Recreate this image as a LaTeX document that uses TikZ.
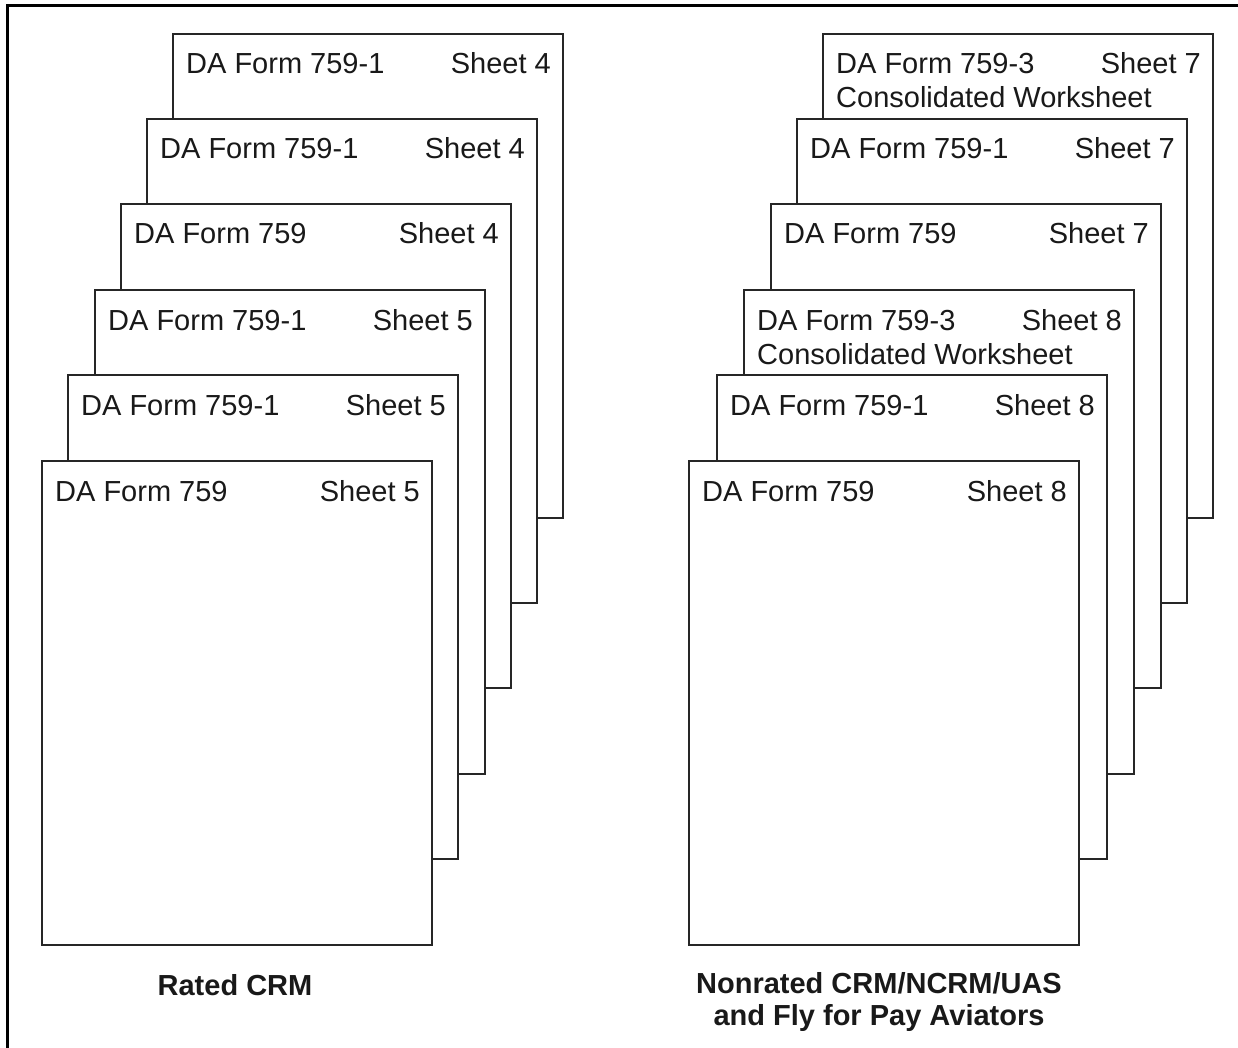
\documentclass[tikz,border=0pt]{standalone}
\usepackage{fontspec}
\setmainfont{Liberation Sans}
\usetikzlibrary{calc}
\tikzset{
  page/.style={draw=black!85, fill=white, line width=2pt, rectangle, anchor=north west,
    minimum width=390pt, minimum height=484pt, inner sep=0pt, outer sep=0pt},
  lbl/.style={inner sep=0pt, font=\fontsize{29}{34}\selectfont, text=black!90},
  captext/.style={inner sep=0pt, font=\fontsize{29}{33}\selectfont\bfseries, align=center, text=black!90},
}
\begin{document}
\begin{tikzpicture}[x=1pt,y=-1pt]
\useasboundingbox (0,0) rectangle (1238,1048);
\draw[line width=3pt] (7,1052) -- (7,6) -- (1240,6);
% left stack
\node[page] (L1) at (173,34) {};
\node[lbl,anchor=base west] (L1a) at ($(L1.north west)+(13,40)$) {DA Form 759-1};
\node[lbl,anchor=base east] (L1b) at ($(L1.north east)+(-12,40)$) {Sheet 4};
\node[page] (L2) at (147,119) {};
\node[lbl,anchor=base west] (L2a) at ($(L2.north west)+(13,40)$) {DA Form 759-1};
\node[lbl,anchor=base east] (L2b) at ($(L2.north east)+(-12,40)$) {Sheet 4};
\node[page] (L3) at (121,204) {};
\node[lbl,anchor=base west] (L3a) at ($(L3.north west)+(13,40)$) {DA Form 759};
\node[lbl,anchor=base east] (L3b) at ($(L3.north east)+(-12,40)$) {Sheet 4};
\node[page] (L4) at (95,290) {};
\node[lbl,anchor=base west] (L4a) at ($(L4.north west)+(13,40)$) {DA Form 759-1};
\node[lbl,anchor=base east] (L4b) at ($(L4.north east)+(-12,40)$) {Sheet 5};
\node[page] (L5) at (68,375) {};
\node[lbl,anchor=base west] (L5a) at ($(L5.north west)+(13,40)$) {DA Form 759-1};
\node[lbl,anchor=base east] (L5b) at ($(L5.north east)+(-12,40)$) {Sheet 5};
\node[page] (L6) at (42,461) {};
\node[lbl,anchor=base west] (L6a) at ($(L6.north west)+(13,40)$) {DA Form 759};
\node[lbl,anchor=base east] (L6b) at ($(L6.north east)+(-12,40)$) {Sheet 5};
% right stack
\node[page] (R1) at (823,34) {};
\node[lbl,anchor=base west] (R1a) at ($(R1.north west)+(13,40)$) {DA Form 759-3};
\node[lbl,anchor=base east] (R1b) at ($(R1.north east)+(-12,40)$) {Sheet 7};
\node[lbl,anchor=base west] (R1c) at ($(R1.north west)+(13,74)$) {Consolidated Worksheet};
\node[page] (R2) at (797,119) {};
\node[lbl,anchor=base west] (R2a) at ($(R2.north west)+(13,40)$) {DA Form 759-1};
\node[lbl,anchor=base east] (R2b) at ($(R2.north east)+(-12,40)$) {Sheet 7};
\node[page] (R3) at (771,204) {};
\node[lbl,anchor=base west] (R3a) at ($(R3.north west)+(13,40)$) {DA Form 759};
\node[lbl,anchor=base east] (R3b) at ($(R3.north east)+(-12,40)$) {Sheet 7};
\node[page] (R4) at (744,290) {};
\node[lbl,anchor=base west] (R4a) at ($(R4.north west)+(13,40)$) {DA Form 759-3};
\node[lbl,anchor=base east] (R4b) at ($(R4.north east)+(-12,40)$) {Sheet 8};
\node[lbl,anchor=base west] (R4c) at ($(R4.north west)+(13,74)$) {Consolidated Worksheet};
\node[page] (R5) at (717,375) {};
\node[lbl,anchor=base west] (R5a) at ($(R5.north west)+(13,40)$) {DA Form 759-1};
\node[lbl,anchor=base east] (R5b) at ($(R5.north east)+(-12,40)$) {Sheet 8};
\node[page] (R6) at (689,461) {};
\node[lbl,anchor=base west] (R6a) at ($(R6.north west)+(13,40)$) {DA Form 759};
\node[lbl,anchor=base east] (R6b) at ($(R6.north east)+(-12,40)$) {Sheet 8};
% captions
\node[captext,anchor=base] (capL) at (235,995) {Rated CRM};
\node[captext,anchor=base] (capR1) at (879,993) {Nonrated CRM/NCRM/UAS};
\node[captext,anchor=base] (capR2) at (879,1025) {and Fly for Pay Aviators};
\end{tikzpicture}
\end{document}
